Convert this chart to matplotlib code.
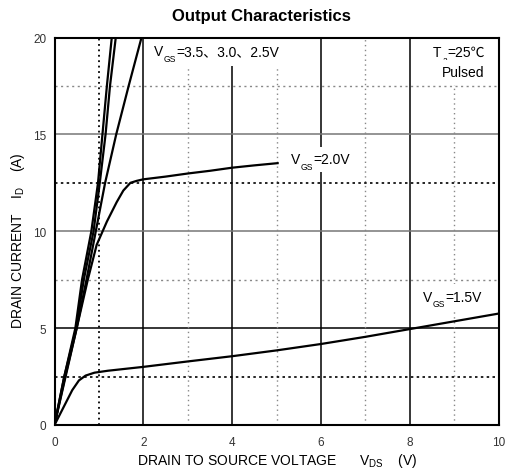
import matplotlib
matplotlib.use('Agg')
import matplotlib.pyplot as plt
import numpy as np

matplotlib.rcParams['mathtext.fontset'] = 'custom'
matplotlib.rcParams['mathtext.rm'] = 'Liberation Sans'
matplotlib.rcParams['mathtext.it'] = 'Liberation Sans:italic'
FAM = ['Liberation Sans', 'Noto Sans CJK SC', 'DejaVu Sans']

# Drain current levels (A) shared by the steep curves
id_steep = [0, 2.5, 5, 7.5, 10, 12.5, 15, 17.5, 20]
vds_35 = [0, 0.22, 0.47, 0.62, 0.83, 0.98, 1.08, 1.18, 1.29]
vds_30 = [0, 0.22, 0.49, 0.66, 0.88, 1.02, 1.15, 1.25, 1.38]
vds_25 = [0, 0.24, 0.50, 0.72, 0.93, 1.14, 1.39, 1.67, 1.96]

# VGS = 2.0 V
vds_20 = [0, 0.25, 0.5, 0.75, 0.95, 1.18, 1.4, 1.55, 1.71, 1.85, 2.0, 2.5, 3.0, 3.5, 4.0, 4.5, 5.05]
id_20 = [0, 2.5, 5, 7.5, 9.3, 10.5, 11.5, 12.1, 12.5, 12.6, 12.68, 12.82, 12.98, 13.12, 13.28, 13.4, 13.52]

# VGS = 1.5 V
vds_15 = [0, 0.2, 0.4, 0.55, 0.7, 0.9, 1.2, 2, 3, 4, 5, 6, 7, 8, 9, 10]
id_15 = [0, 0.9, 1.8, 2.3, 2.55, 2.7, 2.8, 3.0, 3.28, 3.55, 3.85, 4.18, 4.55, 4.95, 5.35, 5.75]

x_ticks = [0, 2, 4, 6, 8, 10]
y_ticks = [0, 5, 10, 15, 20]

W, H = 505, 477
fig = plt.figure(figsize=(W / 100, H / 100), dpi=100)
ax = fig.add_axes([54.5 / W, 1 - 426 / H, 444 / W, 387.5 / H])
ax.set_xlim(0, 10)
ax.set_ylim(0, 20)

# grid: solid majors, dotted minors
for xv in [2, 4, 6, 8]:
    ax.axvline(xv, color='black', lw=1.1, zorder=1)
ax.axhline(5, color='black', lw=1.1, zorder=1)
for yv in [10, 15]:
    ax.axhline(yv, color='#777777', lw=1.1, zorder=1)
ax.axvline(1, color='black', lw=1.3, ls=(0, (1, 2)), zorder=1)
for xv in [3, 5, 7, 9]:
    ax.axvline(xv, color='#888888', lw=1.0, ls=(0, (1, 2.5)), zorder=1)
for yv in [2.5, 12.5]:
    ax.axhline(yv, color='black', lw=1.2, ls=(0, (1.5, 2)), zorder=1)
for yv in [7.5, 17.5]:
    ax.axhline(yv, color='#888888', lw=1.0, ls=(0, (1.5, 2.5)), zorder=1)

kw = dict(color='black', lw=1.6, zorder=5, solid_capstyle='butt')
ax.plot(vds_35, id_steep, **kw)
ax.plot(vds_30, id_steep, **kw)
ax.plot(vds_25, id_steep, **kw)
ax.plot(vds_20, id_20, **kw)
ax.plot(vds_15, id_15, **kw)

ax.set_xticks(x_ticks)
ax.set_yticks(y_ticks)
ax.tick_params(length=0, labelsize=8.5, labelcolor='#333333')
ax.tick_params(axis='x', pad=8)
ax.tick_params(axis='y', pad=6)
for lab in ax.get_xticklabels() + ax.get_yticklabels():
    lab.set_family(FAM)
for s in ax.spines.values():
    s.set_linewidth(1.5)
    s.set_zorder(6)


def sub_pieces(x, y, main, sub, rest, fs, color, box, z):
    t1 = ax.text(x, y, main, fontsize=fs, family=FAM, va='baseline', ha='left',
                 color=color, bbox=box, zorder=z)
    t2 = ax.annotate(sub, xy=(1, 0), xycoords=t1, xytext=(0.3, -3.2),
                     textcoords='offset points', fontsize=fs * 0.62, family=FAM,
                     va='bottom', ha='left', color=color, bbox=box, zorder=z)
    ax.annotate(rest, xy=(1, 0), xycoords=(t2, t1), xytext=(0.3, 0),
                textcoords='offset points', fontsize=fs, family=FAM,
                va='bottom', ha='left', color=color, bbox=box, zorder=z)


def sub_label(x, y, main, sub, rest, fs=10, pad=4):
    # white knock-out boxes first, then the visible text on top
    box = dict(facecolor='white', edgecolor='none', pad=pad)
    sub_pieces(x, y, main, sub, rest, fs, 'white', box, 2)
    sub_pieces(x, y, main, sub, rest, fs, 'black', None, 3)


sub_label(2.24, 19.09, 'V', 'GS', '=3.5、3.0、2.5V', pad=6)
sub_label(5.32, 13.5, 'V', 'GS', '=2.0V', pad=4)
sub_label(8.3, 6.41, 'V', 'GS', '=1.5V', pad=4)
sub_label(8.53, 19.04, 'T', 'a', '=25℃', pad=5)
ax.text(8.73, 18.0, 'Pulsed', fontsize=10, family=FAM, va='baseline', ha='left',
        bbox=dict(facecolor='white', edgecolor='none', pad=4), zorder=3)

fig.text(261 / W, 1 - 21 / H, 'Output Characteristics', fontsize=12, fontweight='bold',
         family=FAM, ha='center', va='baseline')
fig.text(277.5 / W, 1 - 461 / H,
         r'DRAIN TO SOURCE VOLTAGE      V$_{\mathrm{DS}}$    (V)',
         fontsize=10, family='Liberation Sans', ha='center', va='center')
fig.text(17.7 / W, 1 - 240.5 / H,
         r'DRAIN CURRENT    I$_{\mathrm{D}}$    (A)',
         fontsize=10, family='Liberation Sans', ha='center', va='center', rotation=90)

fig.savefig('out.png', dpi=100)
